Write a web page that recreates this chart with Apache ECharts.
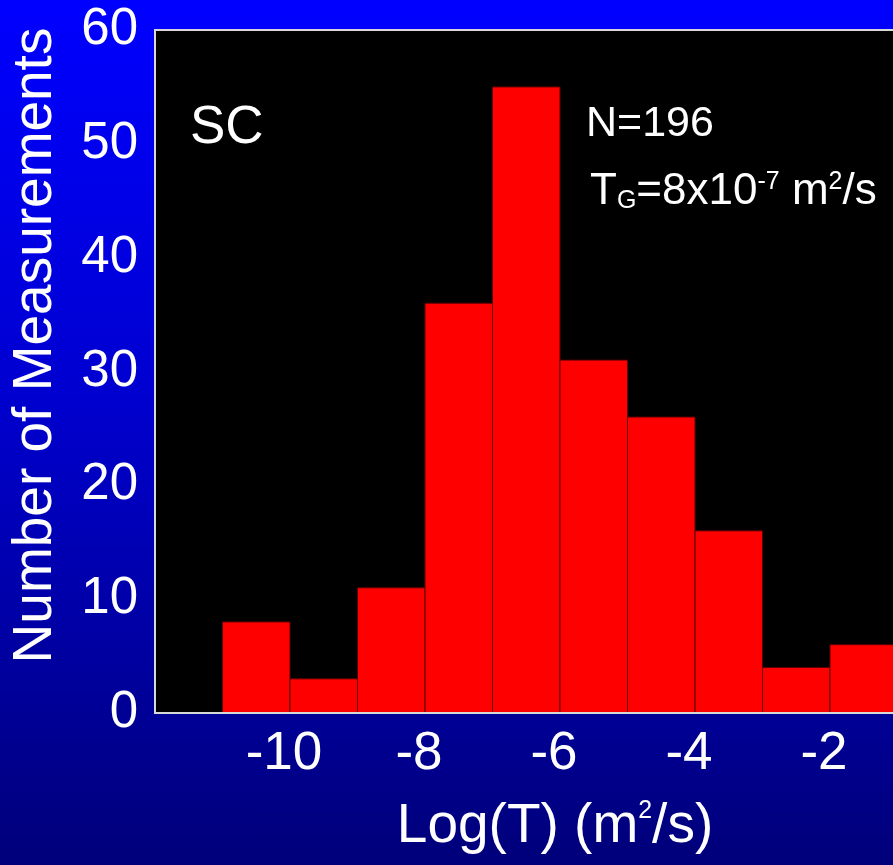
<!DOCTYPE html>
<html>
<head>
<meta charset="utf-8">
<script src="https://cdn.jsdelivr.net/npm/echarts@6/dist/echarts.min.js"></script>
<style>
  html, body { margin: 0; padding: 0; }
  #chart {
    width: 893px;
    height: 865px;
    background: linear-gradient(to bottom, #0000ff 0%, #0000d0 45%, #00007a 100%);
  }
</style>
</head>
<body>
<div id="chart"></div>
<script>
// bin edges of the histogram (log10 of transmissivity) and the count in each bin
const binLeft = [-11, -10, -9, -8, -7, -6, -5, -4, -3, -2];
const binRight = [-10, -9, -8, -7, -6, -5, -4, -3, -2, -1];
const counts = [8, 3, 11, 36, 55, 31, 26, 16, 4, 6];

const yTicks = [0, 10, 20, 30, 40, 50, 60];
const xTicks = [-10, -8, -6, -4, -2];

const font = "Liberation Sans";
const lineColor = "#d8d8d8";

const chart = echarts.init(document.getElementById("chart"));

const histData = binLeft.map((l, i) => [l, binRight[i], counts[i]]);

const option = {
  backgroundColor: "transparent",
  animation: false,
  grid: {
    show: true,
    left: 155,
    top: 30,
    bottom: 152,
    right: -72,
    containLabel: false,
    outerBoundsMode: "none",
    backgroundColor: "#000000",
    borderColor: lineColor,
    borderWidth: 2,
  },
  xAxis: {
    type: "value",
    min: -12,
    max: 0,
    interval: 2,
    z: 5,
    name: "{a|Log(T) (m}{s|2}{a|/s)}",
    nameLocation: "middle",
    nameGap: 86,
    nameTextStyle: {
      padding: [0, 10, 0, 0],
      rich: {
        a: { fontFamily: font, fontSize: 55, color: "#fff" },
        s: { fontFamily: font, fontSize: 25, color: "#fff", verticalAlign: "top", lineHeight: 40 },
      },
    },
    axisLine: { show: true, lineStyle: { color: lineColor, width: 2 } },
    axisTick: { show: false },
    splitLine: { show: false },
    axisLabel: {
      showMinLabel: false,
      showMaxLabel: false,
      color: "#fff",
      fontFamily: font,
      fontSize: 53,
      margin: 15,
      padding: [0, 12, 0, 0],
      formatter: (v) => (xTicks.includes(v) ? String(v) : ""),
    },
  },
  yAxis: {
    type: "value",
    min: 0,
    max: 60,
    interval: 10,
    z: 5,
    name: "Number of Measurements",
    nameLocation: "middle",
    nameGap: 92,
    nameTextStyle: { color: "#fff", fontFamily: font, fontSize: 55, padding: [0, 0, 0, 52] },
    axisLine: { show: true, lineStyle: { color: lineColor, width: 2 } },
    axisTick: { show: true, inside: true, length: 6, lineStyle: { color: lineColor, width: 1.5 } },
    minorTick: { show: true, splitNumber: 2, length: 6, lineStyle: { color: lineColor, width: 1.5 } },
    splitLine: { show: false },
    axisLabel: {
      color: "#fff",
      fontFamily: font,
      fontSize: 51,
      margin: 17,
      formatter: (v) => (yTicks.includes(v) ? String(v) : ""),
    },
  },
  series: [
    {
      type: "custom",
      data: histData,
      encode: { x: [0, 1], y: 2 },
      renderItem: function (params, api) {
        const topLeft = api.coord([api.value(0), api.value(2)]);
        const bottomRight = api.coord([api.value(1), 0]);
        return {
          type: "rect",
          shape: {
            x: topLeft[0],
            y: topLeft[1],
            width: bottomRight[0] - topLeft[0],
            height: bottomRight[1] - topLeft[1],
          },
          style: { fill: "#ff0000", stroke: "#5a0000", lineWidth: 1 },
        };
      },
    },
  ],
  graphic: [
    {
      type: "text",
      x: 190,
      y: 128,
      style: { text: "SC", fill: "#fff", fontFamily: font, fontSize: 53, verticalAlign: "middle" },
    },
    {
      type: "text",
      x: 586,
      y: 124,
      style: { text: "N=196", fill: "#fff", fontFamily: font, fontSize: 43, verticalAlign: "middle" },
    },
    {
      type: "text",
      x: 590,
      y: 192,
      style: {
        text: "{t|T}{g|G}{t|=8x10}{e|-7}{t| m}{e|2}{t|/s}",
        verticalAlign: "middle",
        rich: {
          t: { fill: "#fff", fontFamily: font, fontSize: 44 },
          g: { fill: "#fff", fontFamily: font, fontSize: 25, verticalAlign: "bottom", lineHeight: 40 },
          e: { fill: "#fff", fontFamily: font, fontSize: 25, verticalAlign: "top", lineHeight: 40 },
        },
      },
    },
  ],
};

chart.setOption(option);
</script>
</body>
</html>
